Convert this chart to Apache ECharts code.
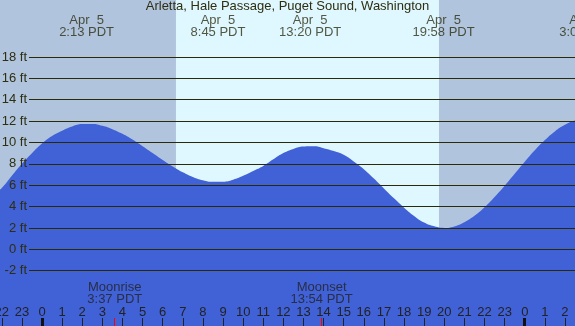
<!DOCTYPE html>
<html>
<head>
<meta charset="utf-8">
<script src="https://cdn.jsdelivr.net/npm/echarts@6/dist/echarts.min.js"></script>
<style>
  html, body { margin: 0; padding: 0; background: #b0c4de; }
  #chart { width: 575px; height: 326px; }
</style>
</head>
<body>
<div id="chart"></div>
<script>
// tide height (ft) read every half hour, hours counted from midnight Apr 5
const tideHours = [-3, -2.5, -2, -1.5, -1, -0.5, 0, 0.5, 1, 1.5, 2, 2.5, 3, 3.5, 4, 4.5,
  5, 5.5, 6, 6.5, 7, 7.5, 8, 8.5, 9, 9.5, 10, 10.5, 11, 11.5, 12, 12.5, 13, 13.5,
  14, 14.5, 15, 15.5, 16, 16.5, 17, 17.5, 18, 18.5, 19, 19.5, 20, 20.5, 21, 21.5,
  22, 22.5, 23, 23.5, 24, 24.5, 25, 25.5, 26, 26.5, 27, 27.5, 28];
const tideFeet = [4.3, 4.98, 5.75, 6.88, 8.0, 9.0, 9.9, 10.6, 11.1, 11.5, 11.72, 11.74,
  11.56, 11.25, 10.81, 10.27, 9.65, 9.01, 8.36, 7.75, 7.21, 6.78, 6.47, 6.32, 6.33,
  6.52, 6.88, 7.33, 7.8, 8.42, 9.01, 9.4, 9.62, 9.64, 9.47, 9.2, 8.85, 8.22, 7.5,
  6.62, 5.7, 4.77, 3.9, 3.12, 2.5, 2.15, 2.0, 2.14, 2.53, 3.13, 3.93, 4.89, 5.95,
  7.07, 8.2, 9.27, 10.23, 11.04, 11.65, 12.05, 12.2, 12.1, 11.8];

// high / low tide labels along the top
const extremeHours = [2.217, 8.75, 13.333, 19.967, 27.08];
const extremeDates = ['Apr  5', 'Apr  5', 'Apr  5', 'Apr  5', 'Apr  6'];
const extremeTimes = ['2:13 PDT', '8:45 PDT', '13:20 PDT', '19:58 PDT', '3:05 PDT'];

// moon events
const moonHours = [3.617, 13.9];
const moonNames = ['Moonrise', 'Moonset'];
const moonTimes = ['3:37 PDT', '13:54 PDT'];

// day / night (sunrise, sunset)
const sunrise = 6.66;
const sunset = 19.74;

const midnights = [0, 24];
const feetTicks = [-2, 18];

const xMin = -3, xMax = 28;
const yMin = -7.18, yMax = 23.34;
const topLabelFt = 20.9;
const moonLabelFt = -4.12;

const chart = echarts.init(document.getElementById('chart'));

const textColor = '#2e2e10';
const font = 'Liberation Sans, Arial, sans-serif';

const option = {
  animation: false,
  title: {
    text: 'Arletta, Hale Passage, Puget Sound, Washington',
    left: 'center',
    top: 0,
    padding: 0,
    textStyle: { fontSize: 13, fontWeight: 'normal', color: textColor, fontFamily: font }
  },
  grid: [
    { left: -18.35, right: -30.2, top: 0, bottom: 0, containLabel: false, outerBoundsMode: 'none' },
    { left: 29, right: 0, top: 57, bottom: 55.3, containLabel: false, outerBoundsMode: 'none' }
  ],
  xAxis: [
    {
      type: 'value', gridIndex: 0, min: xMin, max: xMax, interval: 1, z: 10,
      splitLine: { show: false },
      axisLine: { show: false, onZero: false },
      axisTick: { show: true, inside: true, length: 8, lineStyle: { color: '#222', width: 1 } },
      axisLabel: {
        inside: true, margin: 7, fontSize: 13, color: '#222', fontFamily: font,
        formatter: v => String(((v % 24) + 24) % 24)
      }
    },
    {
      type: 'value', gridIndex: 0, min: xMin, max: xMax, position: 'bottom', z: 11,
      splitLine: { show: false },
      axisLine: { show: false, onZero: false },
      axisLabel: { show: false },
      axisTick: { show: true, inside: true, length: 8, customValues: midnights,
        lineStyle: { color: '#111', width: 3 } }
    },
    {
      type: 'value', gridIndex: 0, min: xMin, max: xMax, position: 'bottom', z: 11,
      splitLine: { show: false },
      axisLine: { show: false, onZero: false },
      axisLabel: { show: false },
      axisTick: { show: true, inside: true, length: 8, customValues: moonHours,
        lineStyle: { color: '#ff0000', width: 1 } }
    },
    {
      type: 'value', gridIndex: 1, min: 0, max: 1, show: false
    }
  ],
  yAxis: [
    {
      type: 'value', gridIndex: 0, min: yMin, max: yMax, show: false
    },
    {
      type: 'value', gridIndex: 1, min: feetTicks[0], max: feetTicks[1], interval: 2, z: 10,
      axisLine: { show: false },
      axisTick: { show: false },
      splitLine: { show: true, lineStyle: { color: '#2a2a08', width: 1 } },
      axisLabel: {
        margin: 2, fontSize: 13, color: textColor, fontFamily: font,
        formatter: v => v + ' ft'
      }
    }
  ],
  series: [
    {
      // day / night background
      type: 'line', xAxisIndex: 0, yAxisIndex: 0, data: [], z: 0, silent: true,
      markArea: {
        silent: true,
        data: [
          [{ xAxis: xMin, itemStyle: { color: '#b0c4de' } }, { xAxis: sunrise }],
          [{ xAxis: sunrise, itemStyle: { color: '#dff7ff' } }, { xAxis: sunset }],
          [{ xAxis: sunset, itemStyle: { color: '#b0c4de' } }, { xAxis: xMax }]
        ]
      }
    },
    {
      name: 'tide', type: 'line', xAxisIndex: 0, yAxisIndex: 0, z: 2,
      smooth: true, symbol: 'none', silent: true,
      lineStyle: { width: 0 },
      areaStyle: { color: '#4161d7', opacity: 1, origin: 'start' },
      data: tideHours.map((h, i) => [h, tideFeet[i]])
    },
    {
      type: 'scatter', xAxisIndex: 0, yAxisIndex: 0, z: 5, silent: true,
      symbolSize: 1, itemStyle: { color: 'rgba(0,0,0,0)' },
      label: {
        show: true, position: 'inside', fontSize: 13, lineHeight: 12,
        color: textColor, fontFamily: font,
        formatter: p => extremeDates[p.dataIndex] + '\n' + extremeTimes[p.dataIndex]
      },
      data: extremeHours.map(h => [h, topLabelFt])
    },
    {
      type: 'scatter', xAxisIndex: 0, yAxisIndex: 0, z: 5, silent: true,
      symbolSize: 1, itemStyle: { color: 'rgba(0,0,0,0)' },
      label: {
        show: true, position: 'inside', fontSize: 13, lineHeight: 12,
        color: '#222', fontFamily: font,
        formatter: p => moonNames[p.dataIndex] + '\n' + moonTimes[p.dataIndex]
      },
      data: moonHours.map(h => [h, moonLabelFt])
    }
  ]
};

chart.setOption(option);
</script>
</body>
</html>
